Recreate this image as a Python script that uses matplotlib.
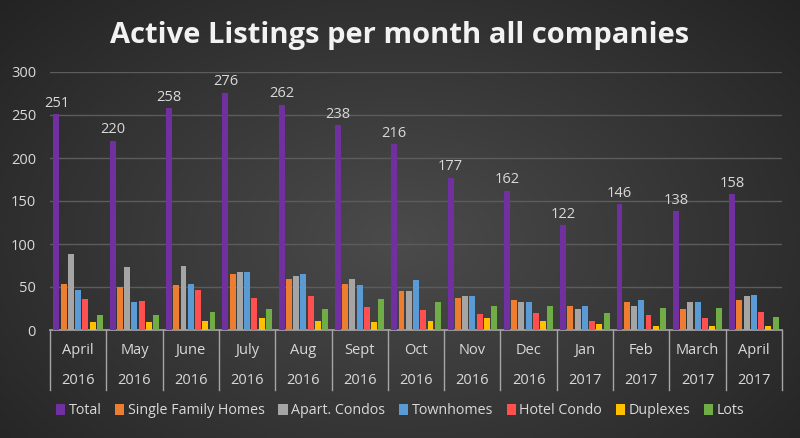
import matplotlib
matplotlib.use("Agg")
import matplotlib.pyplot as plt
import numpy as np

months = ["April", "May", "June", "July", "Aug", "Sept", "Oct",
          "Nov", "Dec", "Jan", "Feb", "March", "April"]
years = ["2016"] * 9 + ["2017"] * 4

total = [251, 220, 258, 276, 262, 238, 216, 177, 162, 122, 146, 138, 158]
single_family = [54, 50, 52, 65, 59, 53, 45, 37, 35, 28, 32, 24, 35]
apart_condos = [88, 73, 74, 68, 63, 59, 45, 40, 32, 25, 28, 33, 39]
townhomes = [47, 33, 53, 68, 65, 52, 58, 39, 32, 28, 35, 33, 41]
hotel_condo = [36, 34, 47, 37, 39, 27, 23, 19, 20, 10, 17, 14, 21]
duplexes = [9, 9, 10, 14, 10, 9, 11, 14, 11, 7, 5, 5, 5]
lots = [18, 18, 21, 24, 24, 36, 33, 28, 28, 20, 26, 26, 15]

series = [
    ("Total", total, "#7030a0"),
    ("Single Family Homes", single_family, "#ed7d31"),
    ("Apart. Condos", apart_condos, "#a5a5a5"),
    ("Townhomes", townhomes, "#5b9bd5"),
    ("Hotel Condo", hotel_condo, "#ff4f4f"),
    ("Duplexes", duplexes, "#ffc000"),
    ("Lots", lots, "#70ad47"),
]

TXT = "#d9d9d9"
FONT = "Open Sans"
fig = plt.figure(figsize=(8.0, 4.38), dpi=100)

# dark background, lighter in the middle
bg = fig.add_axes([0, 0, 1, 1], zorder=-10)
yy, xx = np.mgrid[0:1:200j, 0:1:360j]
r = np.sqrt(((xx - 0.5) / 0.75) ** 2 + ((yy - 0.55) / 0.9) ** 2)
bg.imshow(np.clip(r, 0, 1), cmap=matplotlib.colors.LinearSegmentedColormap.from_list(
    "bg", ["#4b4b4b", "#1f1f1f"]), vmin=0, vmax=1, aspect="auto",
    extent=[0, 1, 0, 1], interpolation="bilinear")
bg.axis("off")

ax = fig.add_axes([50 / 800, (438 - 330) / 438, 732 / 800, 258 / 438])
ax.patch.set_alpha(0)

n = len(months)
x = np.arange(n)
k = len(series)
slot = 0.9 / k
for j, (name, vals, col) in enumerate(series):
    pos = x - 0.45 + slot * (j + 0.5)
    ax.bar(pos, vals, width=slot * 0.82, color=col, label=name, zorder=3)
    if name == "Total":
        for p, v in zip(pos, vals):
            ax.text(p, v + 4, str(v), ha="center", va="bottom", color=TXT,
                    fontsize=10.5, family=FONT)

ax.set_xlim(-0.5, n - 0.5)
ax.set_ylim(0, 300)
ax.set_yticks(range(0, 301, 50))
ax.tick_params(axis="y", length=0, colors=TXT, labelsize=10.5, pad=10)
for lab in ax.get_yticklabels():
    lab.set_family(FONT)
ax.grid(axis="y", color="#5c5c5c", linewidth=1, zorder=0)
ax.set_xticks([])
for s in ["top", "right", "left"]:
    ax.spines[s].set_visible(False)
ax.spines["bottom"].set_color("#a6a6a6")
ax.spines["bottom"].set_linewidth(1.2)

# two-level category axis
for i in range(n + 1):
    ax.plot([i - 0.5, i - 0.5], [0, -70], color="#a6a6a6", lw=1,
            clip_on=False, zorder=2)
for i in range(n):
    ax.text(i, -24, months[i], ha="center", va="center", color=TXT,
            fontsize=10.5, family=FONT)
    ax.text(i, -59, years[i], ha="center", va="center", color=TXT,
            fontsize=10.5, family=FONT)

fig.text(0.5, 1 - 35 / 438, "Active Listings per month all companies",
         ha="center", va="center", color="#f2f2f2", fontsize=21,
         fontweight="bold", family=FONT)

leg = fig.legend(loc="center", bbox_to_anchor=(0.5, 1 - 411 / 438), ncol=7,
                 frameon=False, handlelength=0.65, handleheight=0.75,
                 handletextpad=0.25, columnspacing=0.95,
                 prop={"family": FONT, "size": 10.3})
for t in leg.get_texts():
    t.set_color(TXT)

fig.savefig("out.png", dpi=100)
